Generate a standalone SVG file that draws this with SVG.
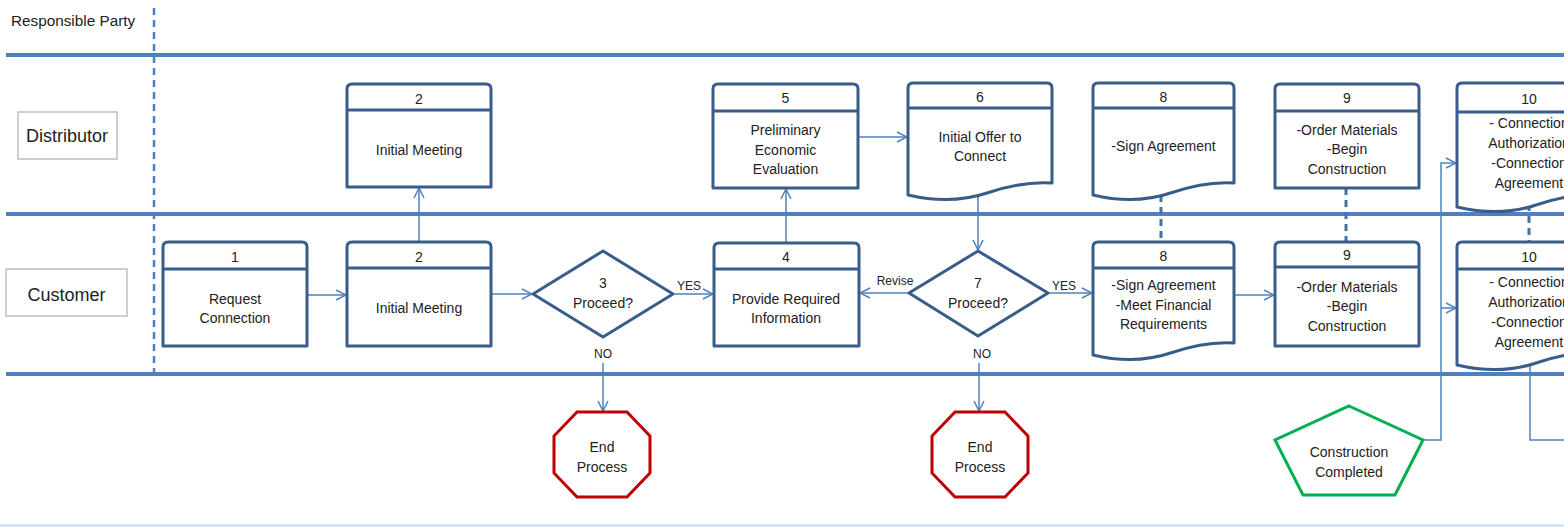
<svg xmlns="http://www.w3.org/2000/svg" width="1564" height="527" viewBox="0 0 1564 527">
<defs>
<marker id="arr" viewBox="0 0 12 12" refX="11" refY="6" markerWidth="12" markerHeight="12" markerUnits="userSpaceOnUse" orient="auto">
<path d="M1,1 L11,6 L1,11" fill="none" stroke="#4f81bd" stroke-width="1.5"/>
</marker>
<style>
.lane{stroke:#4f81bd;stroke-width:4;fill:none}
.sep{stroke:#4f81bd;stroke-width:2.5;stroke-dasharray:7 5;fill:none}
.lbl{fill:#fff;stroke:#bfbfbf;stroke-width:1.5}
.box{fill:#fff;stroke:#385d8a;stroke-width:3;stroke-linejoin:round}
.hdr{stroke:#385d8a;stroke-width:3}
.con{fill:none;stroke:#4f81bd;stroke-width:1.5}
.dash{fill:none;stroke:#4372aa;stroke-width:3;stroke-dasharray:7 5}
.stop{fill:#fff;stroke:#c00000;stroke-width:3}
.pent{fill:#fff;stroke:#00b050;stroke-width:3}
text{font-family:"Liberation Sans",Arial,sans-serif;fill:#222;text-anchor:middle;font-size:14px}
.sm{font-size:12px}
.ln{font-size:18px}
.rp{font-size:15.3px;text-anchor:start}
</style>
</defs>

<g id="lanes">
<line class="lane" x1="6" y1="55" x2="1564" y2="55"/>
<line class="lane" x1="6" y1="214" x2="1564" y2="214"/>
<line class="lane" x1="6" y1="374" x2="1564" y2="374"/>
<line x1="0" y1="525.5" x2="1564" y2="525.5" stroke="#c9d8ea" stroke-width="2"/>
<line class="sep" x1="154" y1="8" x2="154" y2="374"/>
<text class="rp" x="11" y="26">Responsible Party</text>
</g>

<g id="lane-distributor">
<rect class="lbl" x="18" y="112" width="99" height="47"/>
<text class="ln" x="67" y="142">Distributor</text>
</g>
<g id="lane-customer">
<rect class="lbl" x="6" y="269" width="121" height="47"/>
<text class="ln" x="66.5" y="301">Customer</text>
</g>

<g id="connectors">
<path class="con" d="M307,295 H346" marker-end="url(#arr)"/>
<path class="con" d="M491,294 H532" marker-end="url(#arr)"/>
<path class="con" d="M419,242 V188" marker-end="url(#arr)"/>
<path class="con" d="M673,294 H713" marker-end="url(#arr)"/>
<path class="con" d="M603,363 V411" marker-end="url(#arr)"/>
<path class="con" d="M786,243 V189" marker-end="url(#arr)"/>
<path class="con" d="M858,137 H907" marker-end="url(#arr)"/>
<path class="con" d="M978,197 V250" marker-end="url(#arr)"/>
<path class="con" d="M909,293 H860" marker-end="url(#arr)"/>
<path class="con" d="M1048,293 H1092" marker-end="url(#arr)"/>
<path class="con" d="M979,363 V411" marker-end="url(#arr)"/>
<path class="con" d="M1234,295 H1274" marker-end="url(#arr)"/>
<path class="con" d="M1423,440 H1441 V163 H1456" marker-end="url(#arr)"/>
<path class="con" d="M1441,308 H1456" marker-end="url(#arr)"/>
<path class="con" d="M1530,365 V440 H1564"/>
<path class="dash" d="M1161,195 V242"/>
<path class="dash" d="M1346,188 V242"/>
<path class="dash" d="M1529,204 V242"/>
<text class="sm" x="689" y="290">YES</text>
<text class="sm" x="603" y="358">NO</text>
<text class="sm" x="895" y="285">Revise</text>
<text class="sm" x="1064" y="290">YES</text>
<text class="sm" x="982" y="358">NO</text>
</g>

<g id="n1">
<path class="box" d="M163,346 V247 Q163,242 168,242 H302 Q307,242 307,247 V346 Z"/>
<line class="hdr" x1="163" y1="269" x2="307" y2="269"/>
<text x="235" y="262">1</text>
<text x="235" y="304">Request</text>
<text x="235" y="323">Connection</text>
</g>

<g id="n2c">
<path class="box" d="M347,346 V247 Q347,242 352,242 H486 Q491,242 491,247 V346 Z"/>
<line class="hdr" x1="347" y1="268" x2="491" y2="268"/>
<text x="419" y="262">2</text>
<text x="419" y="313">Initial Meeting</text>
</g>

<g id="n2d">
<path class="box" d="M347,187 V89 Q347,84 352,84 H486 Q491,84 491,89 V187 Z"/>
<line class="hdr" x1="347" y1="110" x2="491" y2="110"/>
<text x="419" y="104">2</text>
<text x="419" y="155">Initial Meeting</text>
</g>

<g id="n3">
<polygon class="box" points="533,294 603,251 673,294 603,337"/>
<text x="603" y="288">3</text>
<text x="603" y="308">Proceed?</text>
</g>

<g id="n4">
<path class="box" d="M714,346 V248 Q714,243 719,243 H854 Q859,243 859,248 V346 Z"/>
<line class="hdr" x1="714" y1="269" x2="859" y2="269"/>
<text x="786" y="262">4</text>
<text x="786" y="304">Provide Required</text>
<text x="786" y="323">Information</text>
</g>

<g id="n5">
<path class="box" d="M713,188 V89 Q713,84 718,84 H853 Q858,84 858,89 V188 Z"/>
<line class="hdr" x1="713" y1="111" x2="858" y2="111"/>
<text x="785.5" y="103">5</text>
<text x="785.5" y="135">Preliminary</text>
<text x="785.5" y="155">Economic</text>
<text x="785.5" y="174">Evaluation</text>
</g>

<g id="n6">
<path class="box" d="M908,195 V88 Q908,83 913,83 H1047 Q1052,83 1052,88 V183 Q1023,181 987,193 Q951,205 908,195 Z"/>
<line class="hdr" x1="908" y1="108" x2="1052" y2="108"/>
<text x="980" y="102">6</text>
<text x="980" y="142">Initial Offer to</text>
<text x="980" y="161">Connect</text>
</g>

<g id="n7">
<polygon class="box" points="909,293 978,251 1048,293 978,336"/>
<text x="978" y="288">7</text>
<text x="978" y="308">Proceed?</text>
</g>

<g id="n8d">
<path class="box" d="M1093,195 V88 Q1093,83 1098,83 H1229 Q1234,83 1234,88 V183 Q1206,181 1170.5,193 Q1135,205 1093,195 Z"/>
<line class="hdr" x1="1093" y1="108" x2="1234" y2="108"/>
<text x="1163.5" y="102">8</text>
<text x="1163.5" y="151">-Sign Agreement</text>
</g>

<g id="n8c">
<path class="box" d="M1093,355 V247 Q1093,242 1098,242 H1229 Q1234,242 1234,247 V343 Q1206,341 1170.5,353 Q1135,365 1093,355 Z"/>
<line class="hdr" x1="1093" y1="268" x2="1234" y2="268"/>
<text x="1163.5" y="261">8</text>
<text x="1163.5" y="290">-Sign Agreement</text>
<text x="1163.5" y="310">-Meet Financial</text>
<text x="1163.5" y="329">Requirements</text>
</g>

<g id="n9d">
<path class="box" d="M1275,188 V89 Q1275,84 1280,84 H1414 Q1419,84 1419,89 V188 Z"/>
<line class="hdr" x1="1275" y1="111" x2="1419" y2="111"/>
<text x="1347" y="103">9</text>
<text x="1347" y="135">-Order Materials</text>
<text x="1347" y="154">-Begin</text>
<text x="1347" y="174">Construction</text>
</g>

<g id="n9c">
<path class="box" d="M1275,346 V247 Q1275,242 1280,242 H1414 Q1419,242 1419,247 V346 Z"/>
<line class="hdr" x1="1275" y1="267" x2="1419" y2="267"/>
<text x="1347" y="260">9</text>
<text x="1347" y="292">-Order Materials</text>
<text x="1347" y="311">-Begin</text>
<text x="1347" y="331">Construction</text>
</g>

<g id="n10d">
<path class="box" d="M1457,207 V88 Q1457,83 1462,83 H1596 Q1601,83 1601,88 V195 Q1572,193 1536,205 Q1500,217 1457,207 Z"/>
<line class="hdr" x1="1457" y1="112" x2="1601" y2="112"/>
<text x="1529" y="104">10</text>
<text x="1529" y="128">- Connection</text>
<text x="1529" y="148">Authorization</text>
<text x="1529" y="168">-Connection</text>
<text x="1529" y="188">Agreement</text>
</g>

<g id="n10c">
<path class="box" d="M1457,365 V247 Q1457,242 1462,242 H1596 Q1601,242 1601,247 V353 Q1572,351 1536,363 Q1500,375 1457,365 Z"/>
<line class="hdr" x1="1457" y1="269" x2="1601" y2="269"/>
<text x="1529" y="262">10</text>
<text x="1529" y="287">- Connection</text>
<text x="1529" y="307">Authorization</text>
<text x="1529" y="327">-Connection</text>
<text x="1529" y="347">Agreement</text>
</g>

<g id="end1">
<polygon class="stop" points="577,412 627,412 650,436 650,473 627,497 577,497 554,473 554,436"/>
<text x="602" y="452">End</text>
<text x="602" y="472">Process</text>
</g>

<g id="end2">
<polygon class="stop" points="955,412 1005,412 1028,436 1028,473 1005,497 955,497 932,473 932,436"/>
<text x="980" y="452">End</text>
<text x="980" y="472">Process</text>
</g>

<g id="done">
<polygon class="pent" points="1349,406 1423,440 1395,495 1303,495 1275,440"/>
<text x="1349" y="457">Construction</text>
<text x="1349" y="477">Completed</text>
</g>
</svg>
